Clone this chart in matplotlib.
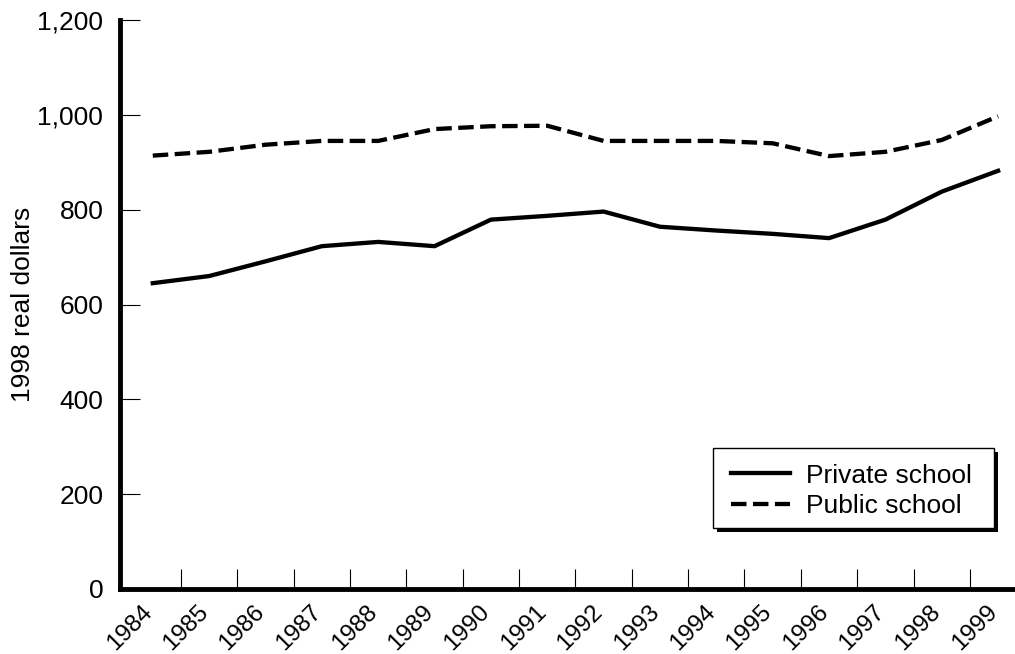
import matplotlib
matplotlib.use("Agg")
import matplotlib.pyplot as plt
from matplotlib.ticker import FixedLocator, FuncFormatter
from matplotlib.patches import Rectangle
from matplotlib.transforms import ScaledTranslation

years = list(range(1984, 2000))
private_school = [645, 660, 691, 723, 732, 723, 779, 787, 796, 764, 756, 749, 740, 779, 838, 882]
public_school = [914, 922, 937, 945, 945, 970, 976, 977, 945, 945, 945, 940, 913, 922, 947, 997]
y_ticks = [0, 200, 400, 600, 800, 1000, 1200]
y_label = "1998 real dollars"
series_labels = ["Private school", "Public school"]

plt.rcParams['font.family'] = ['Liberation Sans', 'DejaVu Sans']
FS = 19
FSX = 17.5

fig = plt.figure(figsize=(10.15, 6.54), dpi=100)
ax = fig.add_axes([0.1182, 0.0994, 1 - 0.1182, 0.9694 - 0.0994])

ax.plot(years, private_school, color='black', lw=3.1, label=series_labels[0])
ax.plot(years, public_school, color='black', lw=3.1, dashes=[3.6, 1.5],
        label=series_labels[1])

ax.set_xlim(years[0] - 0.582, years[-1] + 0.30)
ax.set_ylim(0, 1200)

for s in ['top', 'right']:
    ax.spines[s].set_visible(False)
ax.spines['left'].set_linewidth(3.5)
ax.spines['bottom'].set_linewidth(3.5)
ax.spines['left'].set_capstyle('projecting')
ax.spines['bottom'].set_capstyle('projecting')

ax.yaxis.set_major_locator(FixedLocator(y_ticks))
ax.yaxis.set_major_formatter(FuncFormatter(lambda v, p: f"{int(v):,}"))
ax.tick_params(axis='y', direction='in', length=14.5, width=0.8, labelsize=FS, pad=12)

ax.xaxis.set_major_locator(FixedLocator(years))
ax.set_xticklabels([str(y) for y in years], rotation=45, ha='right', va='top')
ax.xaxis.set_minor_locator(FixedLocator([y + 0.5 for y in years[:-1]]))
ax.tick_params(axis='x', which='major', length=0, labelsize=FSX, pad=8.5)
ax.tick_params(axis='x', which='minor', direction='in', length=14.5, width=0.8)
for lab in ax.get_xticklabels():
    lab.set_transform(lab.get_transform() + ScaledTranslation(3.5 / 100, 0, fig.dpi_scale_trans))

ax.set_ylabel(y_label, fontsize=FS)
ax.yaxis.set_label_coords(-0.095, 0.5)

# legend frame with solid shadow
bx0, bx1 = 0.6626, 0.9765
by0, by1 = 0.1072, 0.2478
sdx, sdy = 4 / 895, 4 / 569
ax.add_patch(Rectangle((bx0 + sdx, by0 - sdy), bx1 - bx0, by1 - by0, transform=ax.transAxes,
                       facecolor='black', edgecolor='black', lw=0, zorder=4))
ax.add_patch(Rectangle((bx0, by0), bx1 - bx0, by1 - by0, transform=ax.transAxes,
                       facecolor='white', edgecolor='black', lw=1.0, zorder=5))

leg = ax.legend(loc='center', bbox_to_anchor=(0.8173, 0.1722), borderaxespad=0,
                fontsize=FS, frameon=False, handlelength=2.23, handletextpad=0.6,
                labelspacing=0.25, borderpad=0)
leg.set_zorder(6)

fig.savefig("out.png", dpi=100)
